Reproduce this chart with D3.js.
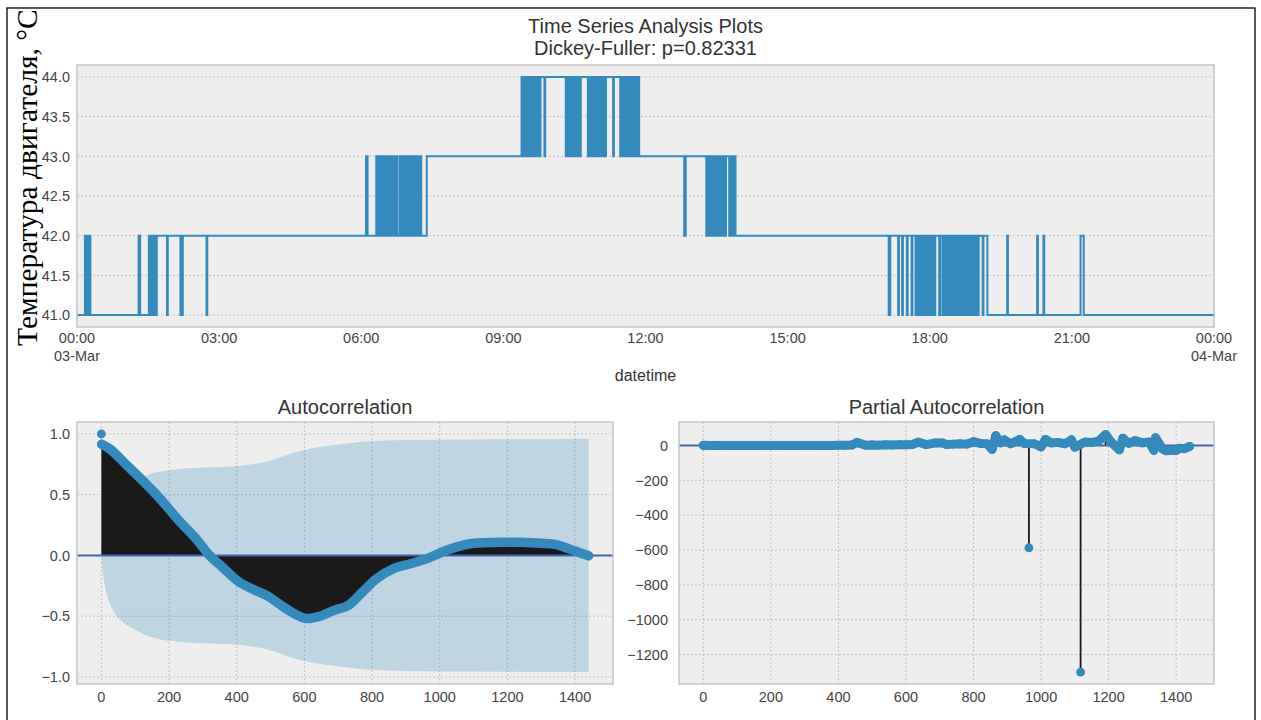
<!DOCTYPE html>
<html>
<head>
<meta charset="utf-8">
<script src="https://cdnjs.cloudflare.com/ajax/libs/d3/7.8.5/d3.min.js"></script>
<style>
  body { margin: 0; background: #fff; }
</style>
</head>
<body>
<div id="chart"></div>
<script>
// engine temperature, one char per minute from the start minute: 1=41, 2=42, 3=43, 4=44
// the level holds until the next chunk starts
var tempChunks = [
  [0, "1"],
  [10, "21212121"],
  [18, "1"],
  [78, "22"],
  [80, "1"],
  [91, "21212121212"],
  [114, "12"],
  [131, "1212"],
  [164, "12"],
  [366, "332"],
  [379, "323232"],
  [385, "23232"],
  [390, "3323232"],
  [397, "3232323232"],
  [407, "22"],
  [409, "3232323232323232323232323232"],
  [443, "3"],
  [563, "434343434343434343434343"],
  [587, "4"],
  [592, "34"],
  [619, "34343434"],
  [627, "344343443434"],
  [647, "34343434343434343434343"],
  [670, "4"],
  [679, "34"],
  [688, "343434343434343434343434"],
  [712, "3"],
  [769, "223"],
  [797, "23232323232"],
  [808, "323232323232323"],
  [826, "232323232"],
  [1028, "112"],
  [1040, "12"],
  [1045, "12"],
  [1051, "12"],
  [1057, "12"],
  [1062, "12121212121212121212121212"],
  [1092, "12"],
  [1096, "12"],
  [1098, "1212121212121212"],
  [1115, "12"],
  [1117, "12121212121212121212121212"],
  [1147, "12"],
  [1153, "1"],
  [1178, "21"],
  [1216, "21"],
  [1224, "21"],
  [1271, "22221"],
  [1440, "1"]
];
var tempTicks = [41, 41.5, 42, 42.5, 43, 43.5, 44];

// autocorrelation
var acfLags   = [0, 1, 23, 74, 125, 177, 228, 279, 320, 362, 403, 454, 495, 536, 577, 608, 639, 690, 731, 772, 814, 865, 916, 968, 1009, 1050, 1101, 1153, 1204, 1255, 1300, 1337, 1379, 1420, 1440];
var acfValues = [1.0, 0.915, 0.88, 0.745, 0.607, 0.456, 0.29, 0.14, 0.0, -0.107, -0.21, -0.286, -0.34, -0.42, -0.49, -0.52, -0.505, -0.45, -0.41, -0.30, -0.19, -0.107, -0.066, -0.02, 0.03, 0.07, 0.10, 0.107, 0.108, 0.107, 0.10, 0.093, 0.058, 0.016, -0.003];
// half width of the confidence band
var bandLags = [1, 5, 12, 33, 64, 105, 156, 228, 331, 403, 485, 557, 639, 721, 793, 896, 1100, 1440];
var bandHalf = [0.05, 0.15, 0.27, 0.44, 0.55, 0.62, 0.68, 0.71, 0.725, 0.735, 0.77, 0.835, 0.89, 0.92, 0.94, 0.95, 0.955, 0.96];
var acfTicks = [-1, -0.5, 0, 0.5, 1];

// partial autocorrelation
var pacfLags   = [0, 20, 40, 60, 80, 100, 120, 140, 160, 180, 200, 220, 240, 260, 280, 300, 320, 340, 360, 380, 400, 420, 440, 455, 480, 500, 520, 540, 560, 580, 600, 620, 636, 660, 687, 708, 720, 740, 760, 780, 800, 820, 840, 855, 866, 880, 891, 910, 937, 950, 964, 980, 1000, 1013, 1030, 1050, 1070, 1090, 1100, 1117, 1130, 1150, 1170, 1191, 1210, 1232, 1242, 1260, 1278, 1300, 1320, 1334, 1339, 1360, 1370, 1385, 1400, 1410, 1425, 1440];
var pacfValues = [1, 0, 0, 0, 0, 0, 0, 0, 0, 0, 0, 0, 0, 0, 0, 0, 0, 0, 0, 0, 2, 1, 3, 18, 2, 3, 2, 4, 3, 5, 4, 6, 20, 5, 15, 15, 6, 8, 10, 8, 22, 12, 10, -22, 57, 15, 32, 10, 35, 12, -587, 10, -8, 35, 15, 18, 10, 33, -10, -1301, 20, 18, 25, 63, 15, -25, 42, 12, 28, 15, 20, -28, 45, -20, -30, -28, -28, -15, -18, -5];
var pacfTicks = [-1200, -1000, -800, -600, -400, -200, 0];
var lagTicks = [0, 200, 400, 600, 800, 1000, 1200, 1400];

var blue = "#348ABD";
var tickColor = "#444";
var sans = "'Liberation Sans', Arial, sans-serif";

var svg = d3.select("#chart").append("svg")
  .attr("width", 1261).attr("height", 720)
  .style("font-family", sans);

var day0 = Date.UTC(2021, 2, 3);
function minuteDate(m) { return new Date(day0 + m * 60000); }

// frame boxes
var boxTs   = {left: 77,  right: 1214, top: 65,  bottom: 327};
var boxAcf  = {left: 77,  right: 613,  top: 422, bottom: 684};
var boxPacf = {left: 679, right: 1214, top: 422, bottom: 684};

function makePanel(b, id) {
  var g = svg.append("g");
  g.append("rect")
    .attr("x", b.left).attr("y", b.top)
    .attr("width", b.right - b.left).attr("height", b.bottom - b.top)
    .attr("fill", "#eeeeee");
  svg.append("clipPath").attr("id", id)
    .append("rect")
    .attr("x", b.left).attr("y", b.top)
    .attr("width", b.right - b.left).attr("height", b.bottom - b.top);
  return g;
}

function frame(b) {
  svg.append("rect")
    .attr("x", b.left).attr("y", b.top)
    .attr("width", b.right - b.left).attr("height", b.bottom - b.top)
    .attr("fill", "none")
    .attr("stroke", "#c4c4c4")
    .attr("stroke-width", 1.5);
}

function hGrid(g, b, y, ticks) {
  g.selectAll(null).data(ticks).enter().append("line")
    .attr("x1", b.left).attr("x2", b.right)
    .attr("y1", function(d) { return y(d); }).attr("y2", function(d) { return y(d); })
    .attr("stroke", "#b9b9b9").attr("stroke-width", 0.8)
    .attr("stroke-dasharray", "2,2");
}

function vGrid(g, b, x, ticks) {
  g.selectAll(null).data(ticks).enter().append("line")
    .attr("y1", b.top).attr("y2", b.bottom)
    .attr("x1", function(d) { return x(d); }).attr("x2", function(d) { return x(d); })
    .attr("stroke", "#b9b9b9").attr("stroke-width", 0.8)
    .attr("stroke-dasharray", "2,2");
}

function yLabels(b, y, ticks, fmt, pad) {
  svg.append("g").selectAll("text").data(ticks).enter().append("text")
    .attr("x", b.left - pad)
    .attr("y", function(d) { return y(d); })
    .attr("dy", "0.36em")
    .attr("text-anchor", "end")
    .attr("font-size", "14.5px")
    .attr("fill", tickColor)
    .text(fmt);
}

function xLabels(b, x, ticks, baseY) {
  svg.append("g").selectAll("text").data(ticks).enter().append("text")
    .attr("x", function(d) { return x(d); })
    .attr("y", baseY)
    .attr("text-anchor", "middle")
    .attr("font-size", "14.5px")
    .attr("fill", tickColor)
    .text(function(d) { return d; });
}

//outer border
svg.append("rect")
  .attr("x", 7).attr("y", 8)
  .attr("width", 1248).attr("height", 730)
  .attr("fill", "none").attr("stroke", "#000").attr("stroke-width", 1.3);

// ---------- time series ----------
var tempPoints = [];
tempChunks.forEach(function(c) {
  for (var i = 0; i < c[1].length; i++) {
    tempPoints.push({t: minuteDate(c[0] + i), v: 40 + (+c[1][i])});
  }
});

var xTime = d3.scaleUtc().domain([minuteDate(0), minuteDate(1440)]).range([boxTs.left, boxTs.right]);
var yTemp = d3.scaleLinear().domain([40.85, 44.15]).range([boxTs.bottom, boxTs.top]);

var gTs = makePanel(boxTs, "clipTs");
hGrid(gTs, boxTs, yTemp, tempTicks);

gTs.append("path")
  .datum(tempPoints)
  .attr("clip-path", "url(#clipTs)")
  .attr("fill", "none")
  .attr("stroke", blue)
  .attr("stroke-width", 2)
  .attr("d", d3.line().curve(d3.curveStepAfter)
    .x(function(d) { return xTime(d.t); })
    .y(function(d) { return yTemp(d.v); }));

frame(boxTs);
yLabels(boxTs, yTemp, tempTicks, d3.format(".1f"), 7);

var timeTicks = xTime.ticks(d3.utcHour.every(3));
var fmtHM = d3.utcFormat("%H:%M"), fmtDay = d3.utcFormat("%d-%b");
svg.append("g").selectAll("text").data(timeTicks).enter().append("text")
  .attr("x", function(d) { return xTime(d); })
  .attr("y", 343)
  .attr("text-anchor", "middle")
  .attr("font-size", "14.5px")
  .attr("fill", tickColor)
  .text(function(d) { return fmtHM(d); });
svg.append("g").selectAll("text").data(timeTicks.filter(function(d) { return d.getUTCHours() == 0; }))
  .enter().append("text")
  .attr("x", function(d) { return xTime(d); })
  .attr("y", 361)
  .attr("text-anchor", "middle")
  .attr("font-size", "14.5px")
  .attr("fill", tickColor)
  .text(function(d) { return fmtDay(d); });

svg.append("text")
  .attr("x", (boxTs.left + boxTs.right) / 2).attr("y", 381)
  .attr("text-anchor", "middle").attr("font-size", "16px").attr("fill", "#333")
  .text("datetime");

svg.append("text")
  .attr("x", (boxTs.left + boxTs.right) / 2).attr("y", 33)
  .attr("text-anchor", "middle").attr("font-size", "20px").attr("fill", "#333")
  .text("Time Series Analysis Plots");
svg.append("text")
  .attr("x", (boxTs.left + boxTs.right) / 2).attr("y", 55)
  .attr("text-anchor", "middle").attr("font-size", "20px").attr("fill", "#333")
  .text("Dickey-Fuller: p=0.82331");

// ---------- autocorrelation ----------
var xAcf = d3.scaleLinear().domain([-72, 1512]).range([boxAcf.left, boxAcf.right]);
var yAcf = d3.scaleLinear().domain([-1.058, 1.098]).range([boxAcf.bottom, boxAcf.top]);
var gAcf = makePanel(boxAcf, "clipAcf");
hGrid(gAcf, boxAcf, yAcf, acfTicks);
vGrid(gAcf, boxAcf, xAcf, lagTicks);

var acfData = acfLags.map(function(l, i) { return {lag: l, v: acfValues[i]}; });
var bandData = bandLags.map(function(l, i) { return {lag: l, h: bandHalf[i]}; });

var content = gAcf.append("g").attr("clip-path", "url(#clipAcf)");

content.append("path")
  .datum(bandData)
  .attr("fill", blue).attr("fill-opacity", 0.25)
  .attr("d", d3.area().curve(d3.curveMonotoneX)
    .x(function(d) { return xAcf(d.lag); })
    .y0(function(d) { return yAcf(-d.h); })
    .y1(function(d) { return yAcf(d.h); }));

// vlines from zero, dense enough to read as a filled area
content.append("path")
  .datum(acfData)
  .attr("fill", "#1a1a1a")
  .attr("d", d3.area().curve(d3.curveMonotoneX)
    .x(function(d) { return xAcf(d.lag); })
    .y0(yAcf(0))
    .y1(function(d) { return yAcf(d.v); }));

content.append("line")
  .attr("x1", boxAcf.left).attr("x2", boxAcf.right)
  .attr("y1", yAcf(0)).attr("y2", yAcf(0))
  .attr("stroke", "#4464b0").attr("stroke-width", 2);

content.append("path")
  .datum(acfData.slice(1))
  .attr("fill", "none")
  .attr("stroke", blue).attr("stroke-width", 9.5)
  .attr("stroke-linecap", "round").attr("stroke-linejoin", "round")
  .attr("d", d3.line().curve(d3.curveMonotoneX)
    .x(function(d) { return xAcf(d.lag); })
    .y(function(d) { return yAcf(d.v); }));

content.selectAll("circle").data(acfData).enter().append("circle")
  .attr("cx", function(d) { return xAcf(d.lag); })
  .attr("cy", function(d) { return yAcf(d.v); })
  .attr("r", 4.4)
  .attr("fill", blue);

frame(boxAcf);
yLabels(boxAcf, yAcf, acfTicks, d3.format(".1f"), 7);
xLabels(boxAcf, xAcf, lagTicks, 702);
svg.append("text")
  .attr("x", (boxAcf.left + boxAcf.right) / 2).attr("y", 414)
  .attr("text-anchor", "middle").attr("font-size", "20px").attr("fill", "#333")
  .text("Autocorrelation");

// ---------- partial autocorrelation ----------
var xPacf = d3.scaleLinear().domain([-72, 1512]).range([boxPacf.left, boxPacf.right]);
var yPacf = d3.scaleLinear().domain([-1369, 135]).range([boxPacf.bottom, boxPacf.top]);
var gPacf = makePanel(boxPacf, "clipPacf");
hGrid(gPacf, boxPacf, yPacf, pacfTicks);
vGrid(gPacf, boxPacf, xPacf, lagTicks);

var pacfData = pacfLags.map(function(l, i) { return {lag: l, v: pacfValues[i]}; });
var pContent = gPacf.append("g").attr("clip-path", "url(#clipPacf)");

pContent.selectAll("line.stem").data(pacfData).enter().append("line")
  .attr("class", "stem")
  .attr("x1", function(d) { return xPacf(d.lag); })
  .attr("x2", function(d) { return xPacf(d.lag); })
  .attr("y1", yPacf(0))
  .attr("y2", function(d) { return yPacf(d.v); })
  .attr("stroke", "#1a1a1a").attr("stroke-width", 1.8);

pContent.append("line")
  .attr("x1", boxPacf.left).attr("x2", boxPacf.right)
  .attr("y1", yPacf(0)).attr("y2", yPacf(0))
  .attr("stroke", "#4464b0").attr("stroke-width", 2);

// markers at every lag merge into one band near zero
pContent.append("path")
  .datum(pacfData.filter(function(d) { return Math.abs(d.v) < 100; }))
  .attr("fill", "none")
  .attr("stroke", blue).attr("stroke-width", 9)
  .attr("stroke-linecap", "round").attr("stroke-linejoin", "round")
  .attr("d", d3.line()
    .x(function(d) { return xPacf(d.lag); })
    .y(function(d) { return yPacf(d.v); }));

pContent.selectAll("circle").data(pacfData).enter().append("circle")
  .attr("cx", function(d) { return xPacf(d.lag); })
  .attr("cy", function(d) { return yPacf(d.v); })
  .attr("r", 4.4)
  .attr("fill", blue);

frame(boxPacf);
yLabels(boxPacf, yPacf, pacfTicks, d3.format("d"), 11);
xLabels(boxPacf, xPacf, lagTicks, 702);
svg.append("text")
  .attr("x", (boxPacf.left + boxPacf.right) / 2).attr("y", 414)
  .attr("text-anchor", "middle").attr("font-size", "20px").attr("fill", "#333")
  .text("Partial Autocorrelation");

// big y label on the left
svg.append("text")
  .attr("transform", "translate(37,346) rotate(-90)")
  .attr("text-anchor", "start")
  .style("font-family", "'Liberation Serif', 'Times New Roman', serif")
  .attr("font-size", "29.5px")
  .attr("fill", "#000")
  .text("Температура двигателя, °С");
</script>
</body>
</html>
